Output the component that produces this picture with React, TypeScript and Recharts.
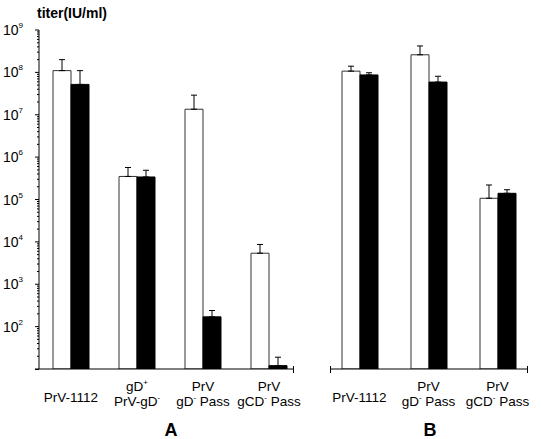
import React from 'react';
import { BarChart, Bar, XAxis, YAxis, ErrorBar } from 'recharts';

// category labels, "^x" marks a superscript character
const categoriesA = ['PrV-1112', 'gD^+|PrV-gD^-', 'PrV|gD^- Pass', 'PrV|gCD^- Pass'];
const categoriesB = ['PrV-1112', 'PrV|gD^- Pass', 'PrV|gCD^- Pass'];

// titers (IU/ml), white = open bars, black = filled bars
const whiteA = [1.1e8, 3.5e5, 1.35e7, 5.4e3];
const whiteErrA = [9e7, 2.2e5, 1.55e7, 3.3e3];
const blackA = [5.2e7, 3.4e5, 170, 12];
const blackErrA = [5.8e7, 1.5e5, 70, 7];

const whiteB = [1.07e8, 2.6e8, 1.07e5];
const whiteErrB = [3.3e7, 1.6e8, 1.13e5];
const blackB = [8.7e7, 5.9e7, 1.4e5];
const blackErrB = [1.1e7, 2.2e7, 3e4];

const decades = [1, 2, 3, 4, 5, 6, 7, 8];
const minorSteps = [1, 2, 3, 4, 5, 6, 7, 8, 9];
const yTicks = [...decades.flatMap((e) => minorSteps.map((m) => m * Math.pow(10, e))), 1e9];

const build = (cats: string[], w: number[], we: number[], b: number[], be: number[]) =>
  cats.map((name, i) => ({
    name,
    white: w[i],
    whiteErr: [0, we[i]],
    black: b[i],
    blackErr: [0, be[i]],
  }));

const dataA = build(categoriesA, whiteA, whiteErrA, blackA, blackErrA);
const dataB = build(categoriesB, whiteB, whiteErrB, blackB, blackErrB);

const renderLine = (line: string) => {
  const parts = line.split(/\^(.)/);
  return parts.map((p, i) =>
    i % 2 === 1 ? (
      <tspan key={i} fontSize={8} dy={-6}>
        {p}
      </tspan>
    ) : (
      <tspan key={i} dy={i > 0 ? 6 : 0}>
        {p}
      </tspan>
    )
  );
};

const CatTick = (props: any) => {
  const { x, y, payload } = props;
  const lines: string[] = String(payload.value).split('|');
  const offsets = lines.length === 1 ? [33] : [22, 37];
  return (
    <g>
      {lines.map((l, i) => (
        <text key={i} x={x} y={y + offsets[i]} textAnchor="middle" fontSize={13.5} fill="#000">
          {renderLine(l)}
        </text>
      ))}
    </g>
  );
};

const LogTick = (props: any) => {
  const { x, y, payload } = props;
  const v = payload.value as number;
  const exp = Math.round(Math.log10(v));
  const major = Math.abs(v - Math.pow(10, exp)) < 1e-6 * v;
  return (
    <g>
      <line x1={x} x2={x - (major ? 4 : 2)} y1={y} y2={y} stroke="#000" strokeWidth={1} />
      {major && exp > 1 && (
        <text x={x - 16} y={y + 5} textAnchor="end" fontSize={14} fill="#000">
          <tspan>10</tspan>
          <tspan fontSize={8} dy={-7}>
            {exp}
          </tspan>
        </text>
      )}
    </g>
  );
};

const Panel = ({ data, width, margin, showY, padding }: any) => (
  <BarChart width={width} height={439} data={data} margin={margin} barGap={0} barSize={18}>
    <XAxis
      dataKey="name"
      height={70}
      tickSize={0}
      tickMargin={0}
      interval={0}
      padding={padding}
      axisLine={{ stroke: '#000' }}
      tick={<CatTick />}
    />
    <YAxis
      hide={!showY}
      width={39}
      type="number"
      scale="log"
      domain={[10, 1e9]}
      allowDataOverflow
      ticks={yTicks}
      interval={0}
      tickSize={0}
      tickMargin={0}
      axisLine={{ stroke: '#000' }}
      tick={<LogTick />}
    />
    <Bar dataKey="white" fill="#fff" stroke="#333" strokeWidth={1} isAnimationActive={false}>
      <ErrorBar dataKey="whiteErr" width={3} stroke="#000" strokeWidth={1} direction="y" isAnimationActive={false} />
    </Bar>
    <Bar dataKey="black" fill="#000" stroke="#000" strokeWidth={1} isAnimationActive={false}>
      <ErrorBar dataKey="blackErr" width={3} stroke="#000" strokeWidth={1} direction="y" isAnimationActive={false} />
    </Bar>
  </BarChart>
);

export default function App() {
  return (
    <div
      style={{
        position: 'absolute',
        left: 0,
        top: 0,
        width: 541,
        height: 439,
        background: '#fff',
        fontFamily: '"Liberation Sans", Arial, sans-serif',
      }}
    >
      <div style={{ position: 'absolute', left: 0, top: 0 }}>
        <Panel
          data={dataA}
          width={318}
          margin={{ top: 30, right: 25, left: 0, bottom: 0 }}
          padding={{ left: -1, right: -9 }}
          showY
        />
      </div>
      <div style={{ position: 'absolute', left: 318, top: 0 }}>
        <Panel
          data={dataB}
          width={223}
          margin={{ top: 30, right: 14, left: 12, bottom: 0 }}
          padding={{ left: -5, right: -5 }}
          showY={false}
        />
      </div>
      <svg width={541} height={439} style={{ position: 'absolute', left: 0, top: 0, pointerEvents: 'none' }}>
        <text x={37} y={18} fontSize={14} fontWeight="bold" fill="#000">
          titer(IU/ml)
        </text>
        <text x={171} y={436} fontSize={18} fontWeight="bold" textAnchor="middle" fill="#000">
          A
        </text>
        <text x={430} y={436} fontSize={18} fontWeight="bold" textAnchor="middle" fill="#000">
          B
        </text>
        <line x1={35} x2={39} y1={369.5} y2={369.5} stroke="#000" />
        <line x1={293.5} x2={293.5} y1={366} y2={373} stroke="#000" />
        <line x1={330.5} x2={330.5} y1={366} y2={373} stroke="#000" />
        <line x1={527.5} x2={527.5} y1={366} y2={373} stroke="#000" />
      </svg>
    </div>
  );
}
